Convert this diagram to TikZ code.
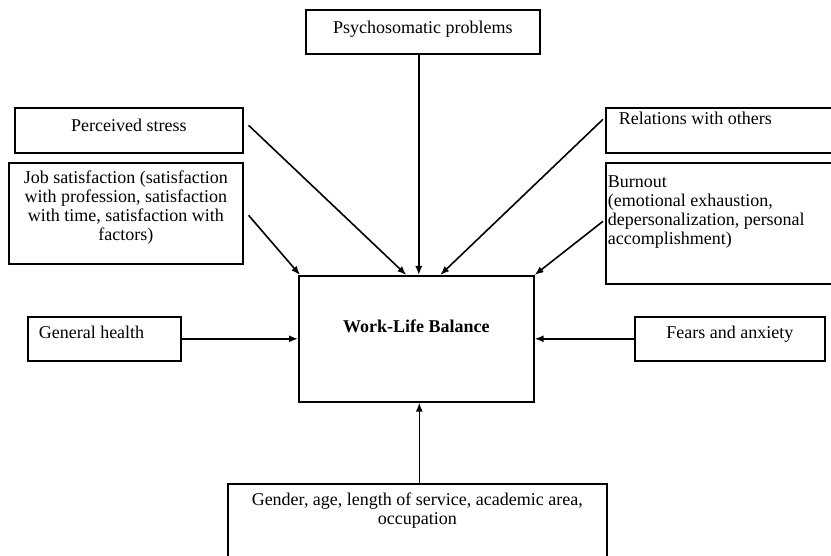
\documentclass[tikz,border=0pt]{standalone}
\usepackage{fontspec}
\setmainfont{Liberation Serif}
\usetikzlibrary{arrows.meta, calc}
\tikzset{every picture/.style={line width=1.6pt}}
\tikzset{
    factor/.style={draw, inner sep=0pt, anchor=north west, font=\fontsize{18}{19}\selectfont},
    inarrow/.style={-{Latex[length=9pt,width=7pt]}}
}
\newcommand{\cellbox}[5]{\parbox[t][#2pt][t]{#1pt}{#3\rule{0pt}{#4pt}#5}}

\begin{document}
\begin{tikzpicture}[x=1pt,y=1pt,yscale=-1,xscale=1]
    \path[use as bounding box, clip] (0,0) rectangle (831,556);
    \node[factor] (psych) at (305,9) {\cellbox{234}{44}{\centering}{24}{Psychosomatic problems}};
    \node[factor] (stress) at (14,107) {\cellbox{228}{45}{\centering}{24}{Perceived stress}};
    \node[factor] (job) at (8,162) {\cellbox{234}{101}{\centering}{21}{Job satisfaction (satisfaction\\ with profession, satisfaction\\ with time, satisfaction with\\ factors)}};
    \node[factor] (rel) at (605,107) {\cellbox{245}{45}{\raggedright\leftskip=13pt}{17}{Relations with others}};
    \node[factor] (burn) at (605,162) {\cellbox{245}{121}{\raggedright\leftskip=2pt}{25}{Burnout\\ (emotional exhaustion,\\ depersonalization, personal\\ accomplishment)}};
    \node[factor] (health) at (27,316) {\cellbox{153}{44}{\raggedright\leftskip=11pt}{22}{General health}};
    \node[factor] (fears) at (634,316) {\cellbox{190}{44}{\centering}{22}{Fears and anxiety}};
    \node[factor] (wlb) at (298,275) {\cellbox{235}{126}{\centering\bfseries}{57}{Work-Life Balance}};
    \node[factor] (demo) at (227,483) {\cellbox{379}{97}{\centering}{22}{Gender, age, length of service, academic area,\\ occupation}};
    \draw[inarrow] ($(psych.south)+(-4,0)$) -- ($(psych.south |- wlb.north)+(-4,0)$);
    \draw[inarrow] ($(stress.east)+(5,-5)$) -- ($(wlb.north)+(-10,0)$);
    \draw[inarrow] ($(job.east)+(5,2)$) -- ($(wlb.north west)+(2,0)$);
    \draw[inarrow] ($(rel.west)+(-2,-11)$) -- ($(wlb.north)+(24,0)$);
    \draw[inarrow] ($(burn.west)+(-2,-2)$) -- (wlb.north east);
    \draw[inarrow] (health.east) -- (wlb.west |- health.east);
    \draw[inarrow] (fears.west) -- (wlb.east |- fears.west);
    \draw[inarrow] ($(demo.north)+(2,0)$) -- ($(demo.north |- wlb.south)+(2,0)$);
\end{tikzpicture}
\end{document}
